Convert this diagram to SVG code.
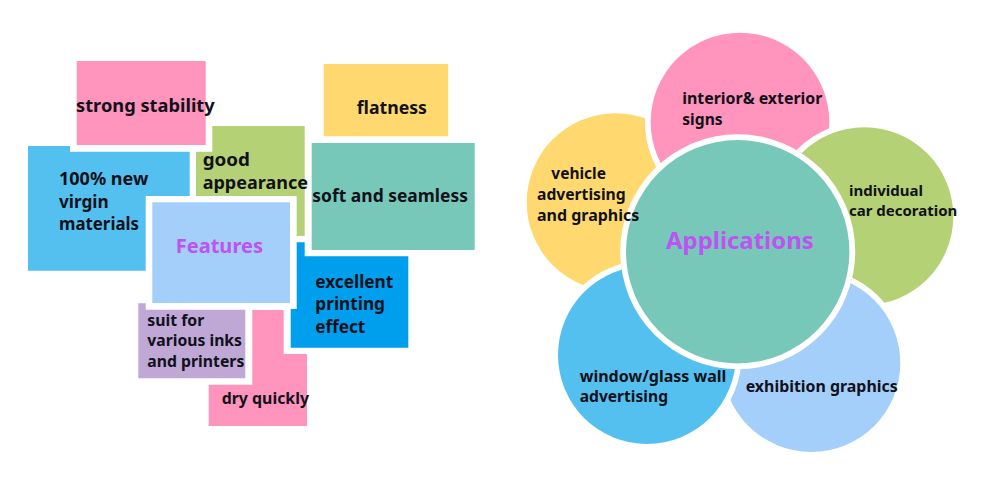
<svg xmlns="http://www.w3.org/2000/svg" width="1000" height="478" viewBox="0 0 1000 478">
<style>
text{font-family:"Noto Sans","Open Sans","Liberation Sans",sans-serif;font-weight:700;fill:#11111a;font-size:17px}
.small{font-size:15.5px}
.tight{font-size:15px}
.title{fill:#bf52f2;font-size:20px}
.title2{font-size:24px}
.petal{stroke:#fff;stroke-width:11.5;paint-order:stroke}
</style>
<defs>
<mask id="outsideHub" maskUnits="userSpaceOnUse" x="0" y="0" width="1000" height="478">
<rect width="1000" height="478" fill="#fff"/>
<circle cx="737.7" cy="251.7" r="117.5" fill="#000"/>
</mask>
</defs>
<rect width="1000" height="478" fill="#fff"/>
<g id="connectors"/>
<g id="features-diagram">
<g id="node-strong-stability"><rect x="76.7" y="61" width="129" height="84" fill="#ff94bc"/><text x="76" y="112.3" textLength="138.7" lengthAdjust="spacingAndGlyphs">strong stability</text></g>
<g id="node-flatness"><rect x="323.7" y="64" width="124.5" height="72.3" fill="#ffd970"/><text x="356.7" y="114" textLength="70.3" lengthAdjust="spacingAndGlyphs">flatness</text></g>
<g id="node-virgin"><polygon points="28,146 70,146 70,151.7 189.7,151.7 189.7,196 145.7,196 145.7,270.7 28,270.7" fill="#54c0f0"/><text x="59" y="185" textLength="89.3" lengthAdjust="spacingAndGlyphs">100% new</text><text x="59" y="207.5" textLength="49.7" lengthAdjust="spacingAndGlyphs">virgin</text><text x="59" y="230" textLength="80" lengthAdjust="spacingAndGlyphs">materials</text></g>
<g id="node-good-appearance"><polygon points="212.3,126 304.7,126 304.7,236 296.7,236 296.7,196 196,196 196,151.7 212.3,151.7" fill="#b5d175"/><text x="202.7" y="165.7" textLength="47.3" lengthAdjust="spacingAndGlyphs">good</text><text x="202.7" y="189" textLength="105.3" lengthAdjust="spacingAndGlyphs">appearance</text></g>
<g id="node-soft-seamless"><rect x="311.7" y="143" width="163" height="107" fill="#78c8ba"/><text x="312.3" y="201.7" textLength="155.7" lengthAdjust="spacingAndGlyphs">soft and seamless</text></g>
<g id="node-features"><rect x="152.3" y="202.3" width="137.7" height="100.7" fill="#a4cffa"/><text class="title" x="175.7" y="252.7" textLength="87.3" lengthAdjust="spacingAndGlyphs">Features</text></g>
<g id="node-excellent-printing"><polygon points="296.7,242.3 304.7,242.3 304.7,256.3 408.3,256.3 408.3,347.7 290.7,347.7 290.7,309 296.7,309" fill="#009fee"/><text x="315.3" y="288" textLength="78" lengthAdjust="spacingAndGlyphs">excellent</text><text x="315.3" y="310.3" textLength="69.7" lengthAdjust="spacingAndGlyphs">printing</text><text x="315.3" y="333" textLength="50" lengthAdjust="spacingAndGlyphs">effect</text></g>
<g id="node-inks-printers"><polygon points="138.3,303.3 145.7,303.3 145.7,309.7 245.3,309.7 245.3,378.3 138.3,378.3" fill="#bfa8d6"/><text class="small" x="147.3" y="325.7" textLength="57" lengthAdjust="spacingAndGlyphs">suit for</text><text class="small" x="147.3" y="346.3" textLength="94.7" lengthAdjust="spacingAndGlyphs">various inks</text><text class="small" x="147.3" y="366.7" textLength="97" lengthAdjust="spacingAndGlyphs">and printers</text></g>
<g id="node-dry-quickly"><polygon points="252.3,310 283.7,310 283.7,354 307,354 307,426 208.7,426 208.7,384.7 252.3,384.7" fill="#ff94bc"/><text class="small" x="221.7" y="404" textLength="87.3" lengthAdjust="spacingAndGlyphs">dry quickly</text></g>
</g>
<g id="applications-diagram">
<g id="node-applications"><circle cx="737.7" cy="251.7" r="111.7" fill="#78c8ba"/><text class="title title2" x="666" y="249.3" textLength="147.7" lengthAdjust="spacingAndGlyphs">Applications</text></g>
<g id="node-vehicle"><circle class="petal" cx="615.7" cy="202.3" r="89" fill="#ffd970" mask="url(#outsideHub)"/><text class="small" x="551.3" y="179.3" textLength="54.7" lengthAdjust="spacingAndGlyphs">vehicle</text><text class="small" x="537" y="200" textLength="88.7" lengthAdjust="spacingAndGlyphs">advertising</text><text class="small" x="537" y="220.5" textLength="102.3" lengthAdjust="spacingAndGlyphs">and graphics</text></g>
<g id="node-interior"><circle class="petal" cx="740" cy="122" r="89.3" fill="#ff94bc" mask="url(#outsideHub)"/><text class="small" x="682.3" y="104.3" textLength="140" lengthAdjust="spacingAndGlyphs">interior&amp; exterior</text><text class="small" x="682.3" y="125" textLength="40.3" lengthAdjust="spacingAndGlyphs">signs</text></g>
<g id="node-car"><circle class="petal" cx="864.3" cy="216.3" r="89" fill="#b5d175" mask="url(#outsideHub)"/><text class="tight" x="849" y="195.5" textLength="74" lengthAdjust="spacingAndGlyphs">individual</text><text class="tight" x="849" y="216" textLength="108.3" lengthAdjust="spacingAndGlyphs">car decoration</text></g>
<g id="node-exhibition"><circle class="petal" cx="811.3" cy="363" r="89" fill="#a4cffa" mask="url(#outsideHub)"/><text class="small" x="745.7" y="391.7" textLength="152" lengthAdjust="spacingAndGlyphs">exhibition graphics</text></g>
<g id="node-window"><circle class="petal" cx="647" cy="355" r="89" fill="#54c0f0" mask="url(#outsideHub)"/><text class="small" x="579.7" y="381.7" textLength="146.7" lengthAdjust="spacingAndGlyphs">window/glass wall</text><text class="small" x="579.7" y="402.3" textLength="88.3" lengthAdjust="spacingAndGlyphs">advertising</text></g>
</g>
</svg>
